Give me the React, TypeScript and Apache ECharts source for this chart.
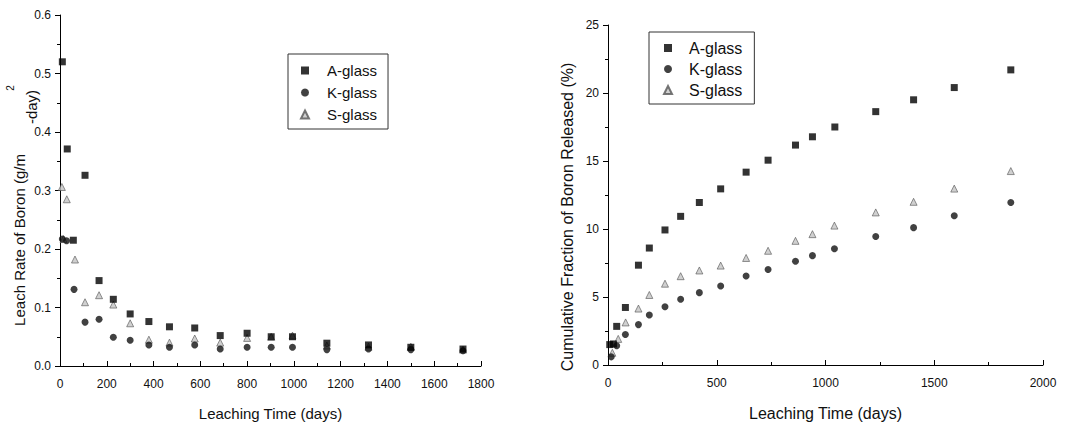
import React, { useEffect, useRef } from "react";
import * as echarts from "echarts";

// ---- Left chart: leach rate of boron (g/m2-day) vs leaching time (days)
const rateDaysA = [10, 31, 57, 107, 167, 228, 300, 380, 468, 576, 685, 800, 903, 994, 1141, 1319, 1500, 1723];
const rateA = [0.52, 0.371, 0.215, 0.326, 0.146, 0.114, 0.089, 0.076, 0.067, 0.065, 0.052, 0.056, 0.05, 0.05, 0.039, 0.036, 0.032, 0.029];
const rateDaysK = [10, 28, 60, 107, 167, 228, 300, 380, 468, 576, 685, 800, 903, 994, 1141, 1319, 1500, 1723];
const rateK = [0.217, 0.214, 0.131, 0.075, 0.08, 0.049, 0.044, 0.036, 0.032, 0.036, 0.029, 0.032, 0.032, 0.032, 0.028, 0.029, 0.028, 0.026];
const rateDaysS = [8, 15, 29, 64, 107, 167, 228, 300, 380, 468, 576, 685, 800, 903, 994, 1141, 1319, 1500, 1723];
const rateS = [0.306, 0.217, 0.285, 0.182, 0.109, 0.121, 0.105, 0.073, 0.045, 0.04, 0.047, 0.04, 0.048, 0.05, 0.052, 0.035, 0.033, 0.033, 0.028];

// ---- Right chart: cumulative fraction of boron released (%) vs leaching time (days)
const cumDaysA = [8, 25, 40, 80, 140, 190, 262, 334, 420, 518, 635, 736, 862, 940, 1043, 1231, 1405, 1592, 1852];
const cumA = [1.5, 1.55, 2.84, 4.23, 7.34, 8.6, 9.93, 10.93, 11.95, 12.95, 14.18, 15.06, 16.17, 16.78, 17.5, 18.63, 19.5, 20.4, 21.7];
const cumDaysK = [15, 40, 80, 140, 190, 262, 334, 420, 518, 635, 736, 862, 940, 1041, 1231, 1405, 1592, 1852];
const cumK = [0.6, 1.42, 2.24, 2.97, 3.67, 4.28, 4.83, 5.32, 5.81, 6.54, 7.02, 7.63, 8.04, 8.55, 9.45, 10.1, 10.98, 11.95];
const cumDaysS = [20, 47, 81, 140, 190, 262, 334, 420, 518, 635, 736, 862, 940, 1041, 1231, 1405, 1592, 1852];
const cumS = [0.9, 1.92, 3.13, 4.15, 5.15, 5.98, 6.53, 6.95, 7.31, 7.87, 8.4, 9.13, 9.62, 10.25, 11.22, 12.0, 12.97, 14.26];

const seriesNames = ["A-glass", "K-glass", "S-glass"];
const leftXTicks = { min: 0, max: 1800, interval: 200 };
const leftYTicks = { min: 0, max: 0.6, interval: 0.1 };
const rightXTicks = { min: 0, max: 2000, interval: 500 };
const rightYTicks = { min: 0, max: 25, interval: 5 };

const FONT = "Liberation Sans, Arial, sans-serif";

const zip = (xs: number[], ys: number[]) => xs.map((x, i) => [x, ys[i]]);

const markerStyles = [
  { symbol: "rect", symbolSize: 7, itemStyle: { color: "#000" } },
  { symbol: "circle", symbolSize: 7, itemStyle: { color: "#111" } },
  { symbol: "triangle", symbolSize: 7, itemStyle: { color: "#c4c4c4", borderColor: "#555", borderWidth: 0.8 } },
];

function axisCommon(tickInside: boolean) {
  return {
    axisLine: { show: true, lineStyle: { color: "#000", width: 1 } },
    axisTick: { show: true, inside: tickInside, length: 5, lineStyle: { color: "#000" } },
    minorTick: { show: true, splitNumber: 2, length: 3, lineStyle: { color: "#000" } },
    splitLine: { show: false },
  };
}

const tickLabel = { color: "#111", fontSize: 12, fontFamily: FONT };

export default function App() {
  const ref = useRef<HTMLDivElement>(null);
  useEffect(() => {
    if (!ref.current) return;
    const chart = echarts.init(ref.current, null, { renderer: "svg" });
    const leftData = [zip(rateDaysA, rateA), zip(rateDaysK, rateK), zip(rateDaysS, rateS)];
    const rightData = [zip(cumDaysA, cumA), zip(cumDaysK, cumK), zip(cumDaysS, cumS)];
    const series: any[] = [];
    seriesNames.forEach((name, i) => {
      series.push({ type: "scatter", name, xAxisIndex: 0, yAxisIndex: 0, data: leftData[i], ...markerStyles[i], z: 3 - i });
    });
    seriesNames.forEach((name, i) => {
      series.push({ type: "scatter", name, xAxisIndex: 1, yAxisIndex: 1, data: rightData[i], ...markerStyles[i], z: 3 - i });
    });
    const labelStyle = { color: "#111", fontFamily: FONT };
    const plain = (v: number) => String(v);
    chart.setOption({
      animation: false,
      backgroundColor: "#fff",
      grid: [
        { left: 60, top: 15, width: 421, height: 353 },
        { left: 608, top: 25, width: 435, height: 343 },
      ],
      xAxis: [
        {
          type: "value", gridIndex: 0, ...leftXTicks, ...axisCommon(true),
          axisLabel: { ...tickLabel, margin: 12, formatter: plain },
          name: "Leaching Time (days)", nameLocation: "middle", nameGap: 40,
          nameTextStyle: { ...labelStyle, fontSize: 15 },
        },
        {
          type: "value", gridIndex: 1, ...rightXTicks, ...axisCommon(true),
          axisLabel: { ...tickLabel, margin: 12, formatter: plain },
          name: "Leaching Time (days)", nameLocation: "middle", nameGap: 40,
          nameTextStyle: { ...labelStyle, fontSize: 16 },
        },
      ],
      yAxis: [
        {
          type: "value", gridIndex: 0, ...leftYTicks, ...axisCommon(false),
          axisLabel: { ...tickLabel, margin: 9, formatter: (v: number) => v.toFixed(1) },
        },
        {
          type: "value", gridIndex: 1, ...rightYTicks, ...axisCommon(false),
          axisLabel: { ...tickLabel, margin: 9, formatter: plain },
          name: "Cumulative Fraction of Boron Released (%)", nameLocation: "middle", nameGap: 33,
          nameTextStyle: { ...labelStyle, fontSize: 16, padding: [0, 44, 0, 0] },
        },
      ],
      legend: [
        {
          orient: "vertical", left: 288, top: 54, data: seriesNames,
          itemWidth: 8, itemHeight: 8, itemGap: 7, padding: [9, 11, 7, 12],
          borderColor: "#333", borderWidth: 1, selectedMode: false,
          textStyle: { color: "#111", fontFamily: FONT, fontSize: 15, padding: [0, 0, 0, 13] },
        },
        {
          orient: "vertical", left: 649, top: 32, data: seriesNames,
          itemWidth: 8, itemHeight: 8, itemGap: 5, padding: [8, 12, 6, 14],
          borderColor: "#333", borderWidth: 1, selectedMode: false,
          textStyle: { color: "#111", fontFamily: FONT, fontSize: 16, padding: [0, 0, 0, 12] },
        },
      ],
      graphic: [
        {
          type: "text", x: 19, y: 240, rotation: Math.PI / 2,
          style: { text: "Leach Rate of Boron (g/m", font: `15px ${FONT}`, fill: "#111", align: "center", verticalAlign: "middle" },
        },
        {
          type: "text", x: 10, y: 88, rotation: Math.PI / 2,
          style: { text: "2", font: `10px ${FONT}`, fill: "#111", align: "center", verticalAlign: "middle" },
        },
        {
          type: "text", x: 31, y: 107, rotation: Math.PI / 2,
          style: { text: "-day)", font: `15px ${FONT}`, fill: "#111", align: "center", verticalAlign: "middle" },
        },
      ],
      series,
    });
    return () => chart.dispose();
  }, []);
  return <div ref={ref} style={{ position: "fixed", left: 0, top: 0, width: 1066, height: 426 }} />;
}
